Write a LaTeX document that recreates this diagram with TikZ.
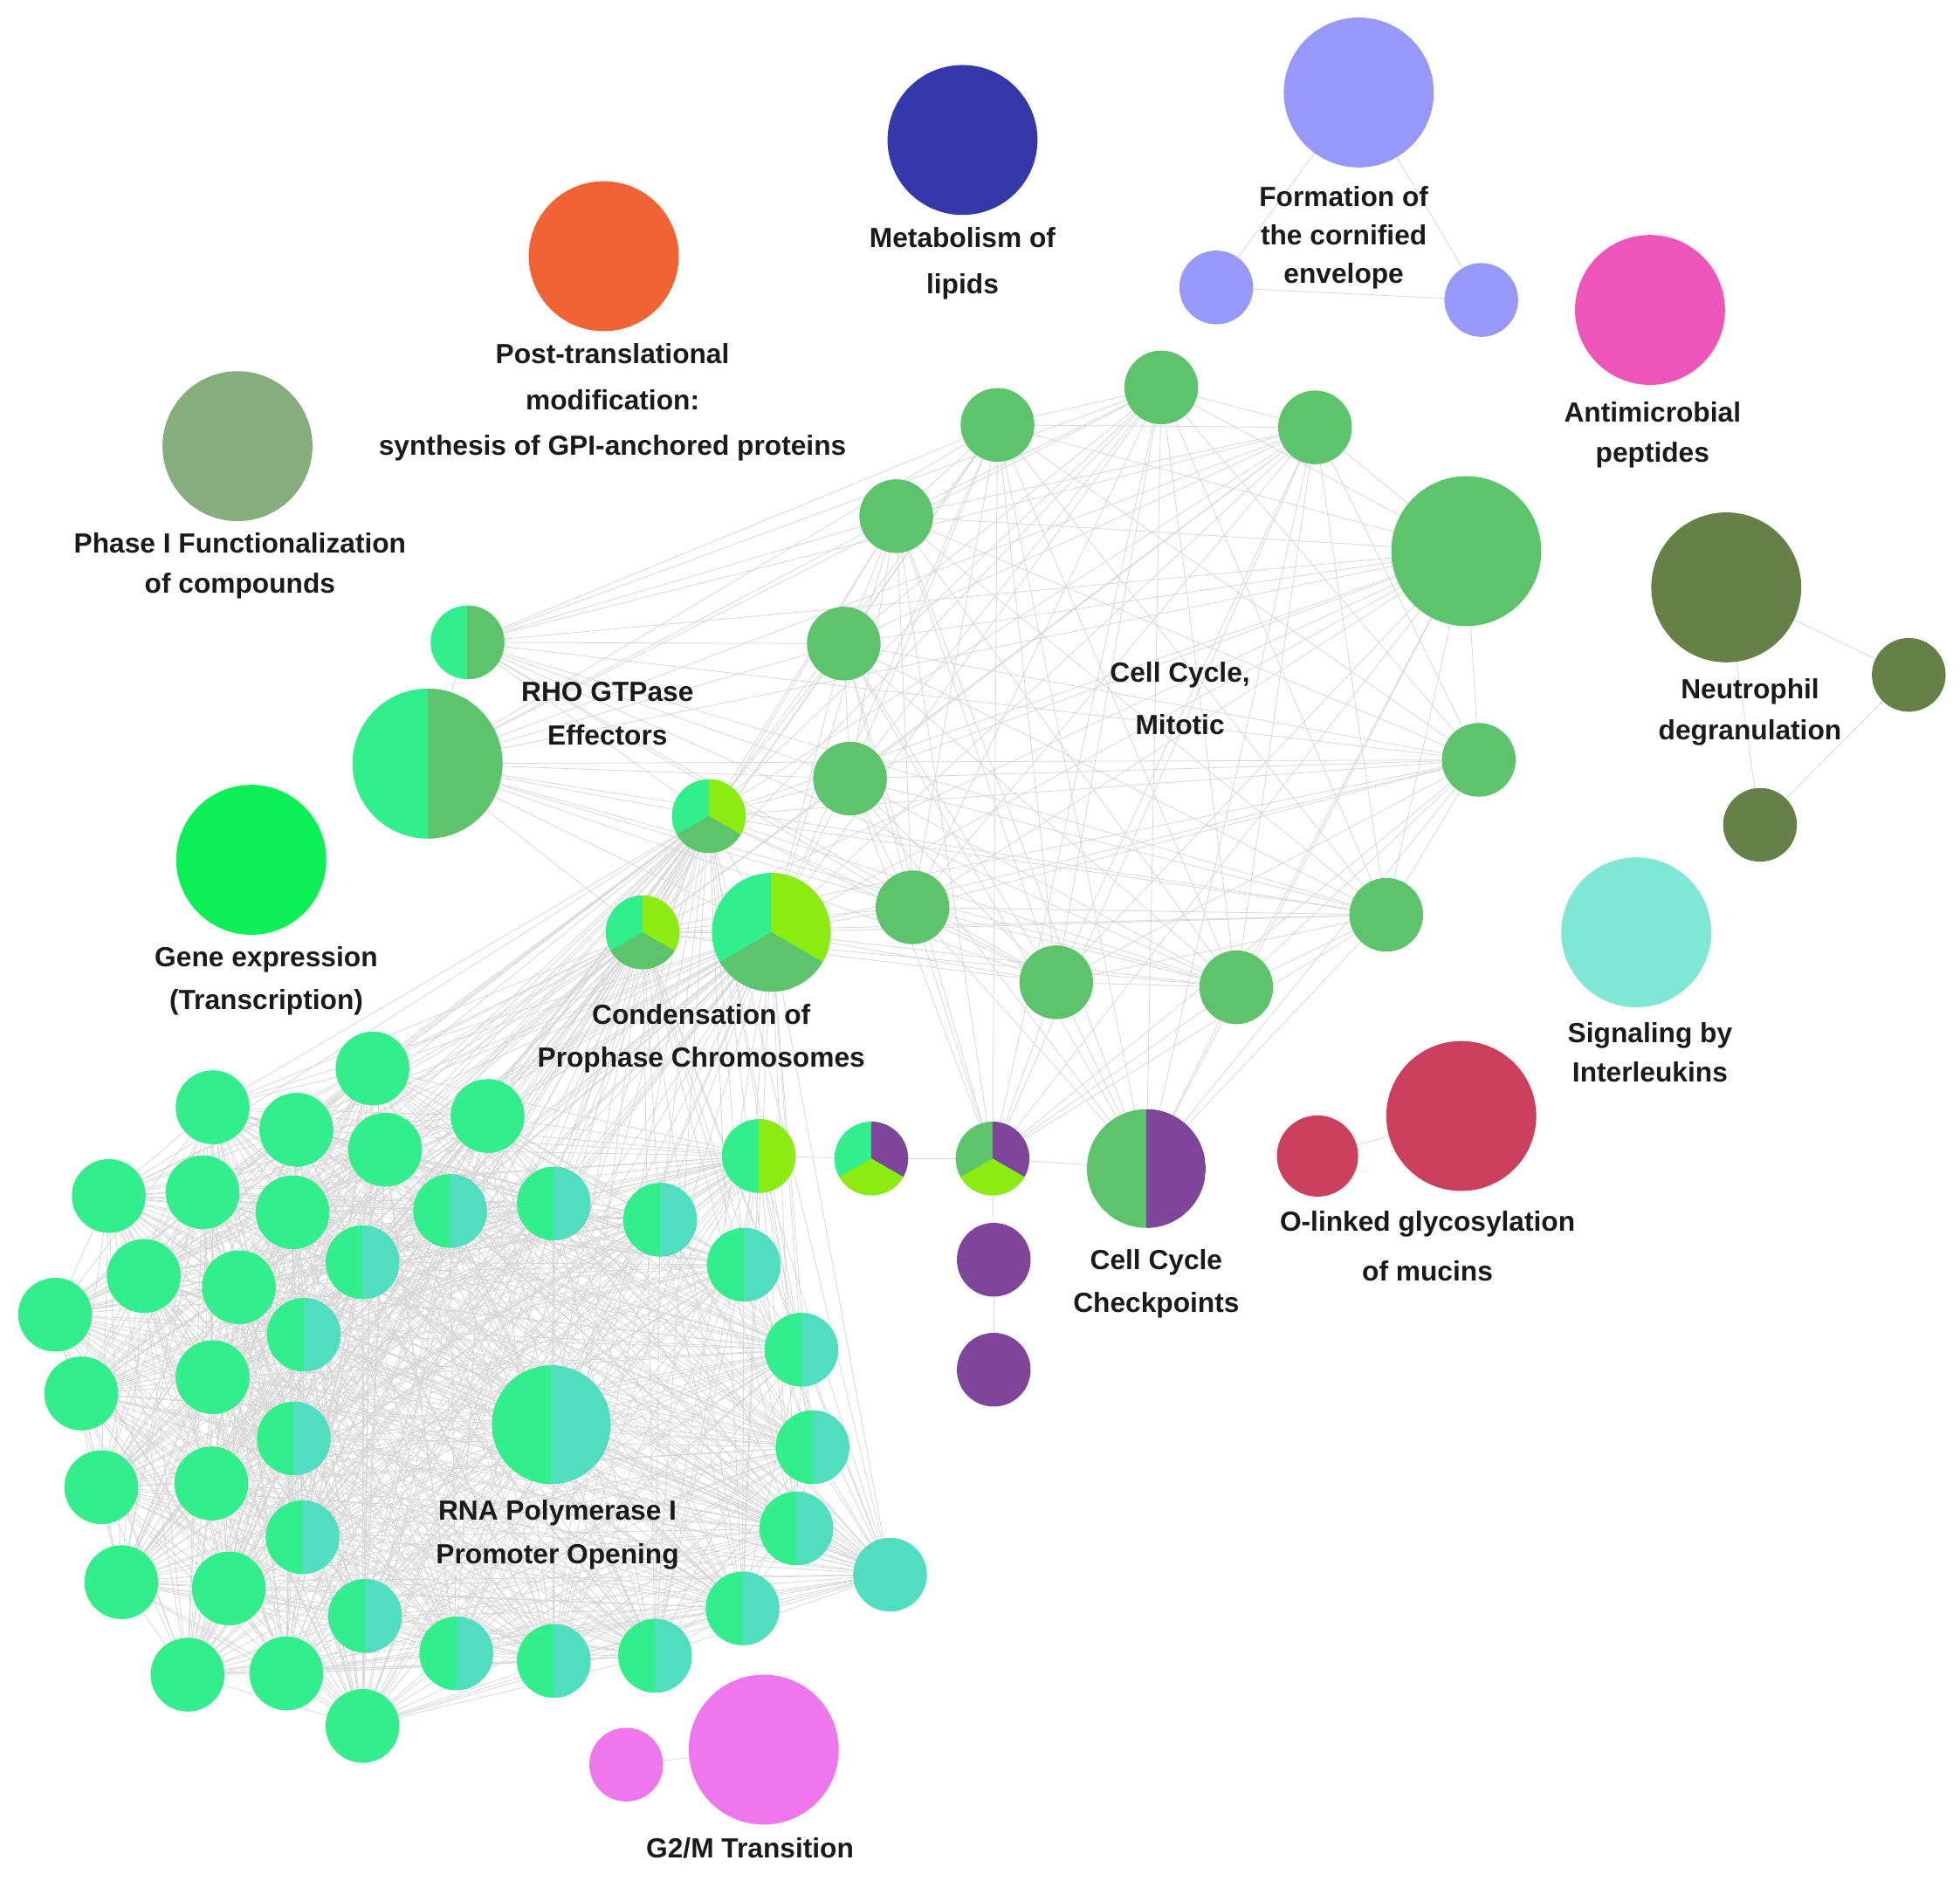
\documentclass[tikz,border=0pt]{standalone}
\usepackage{fontspec}
\usepackage{tikz}
\usetikzlibrary{backgrounds}
\newfontfamily\lblfamily{Liberation Sans}
\newcommand{\lblsize}[1]{\lblfamily\bfseries\fontsize{12.6pt}{#1pt}\selectfont}
\definecolor{cMint}{HTML}{33EE8C}
\definecolor{cAqua}{HTML}{50DDC0}
\definecolor{cMitotic}{HTML}{5EC46C}
\definecolor{cLime}{HTML}{8CEB10}
\definecolor{cPurple}{HTML}{7E459B}
\definecolor{cLipid}{HTML}{3438A8}
\definecolor{cCornified}{HTML}{9898FA}
\definecolor{cPTM}{HTML}{F16334}
\definecolor{cAntimic}{HTML}{EE55BB}
\definecolor{cPhase}{HTML}{88AD7C}
\definecolor{cNeutro}{HTML}{668048}
\definecolor{cGene}{HTML}{0BF055}
\definecolor{cIL}{HTML}{80E6D6}
\definecolor{cOlink}{HTML}{CC405E}
\definecolor{cGtwo}{HTML}{EE77EE}
\definecolor{cEdge}{HTML}{D6D6D6}
\definecolor{cLabel}{HTML}{1A1A1A}

\begin{document}
\begin{tikzpicture}[
 x=0.02cm, y=-0.02cm,
 ball/.style={circle,inner sep=0pt,outer sep=0pt,minimum size=1.18cm},
 bigball/.style={ball,minimum size=2.4cm},
 midball/.style={ball,minimum size=1.9cm},
 duo/.style 2 args={fill=#1,path picture={\fill[#2] (path picture bounding box.north) rectangle (path picture bounding box.south east);}},
 trio/.style n args={3}{fill=#1,path picture={
   \fill[#2] (path picture bounding box.center) -- +(90:2cm) -- +(30:2cm) -- +(-30:2cm) -- cycle;
   \fill[#3] (path picture bounding box.center) -- +(-30:2cm) -- +(-90:2cm) -- +(-150:2cm) -- cycle;}},
 link/.style={draw=cEdge,line width=0.3pt},
 lbl/.style={align=center,inner sep=0pt,text=cLabel}
]
\useasboundingbox (0,0) rectangle (1568,1505);

\node[bigball,fill=cLipid] (lipid) at (770,112) {};
\node[bigball,fill=cCornified] (corn1) at (1087,74) {};
\node[ball,fill=cCornified] (corn2) at (973,230) {};
\node[ball,fill=cCornified] (corn3) at (1185,240) {};
\node[bigball,fill=cPTM] (ptm) at (483,205) {};
\node[bigball,fill=cAntimic] (antimic) at (1320,248) {};
\node[bigball,fill=cPhase] (phase) at (190,357) {};
\node[bigball,fill=cNeutro] (neut1) at (1381,470) {};
\node[ball,fill=cNeutro] (neut2) at (1527,540) {};
\node[ball,fill=cNeutro] (neut3) at (1408,660) {};
\node[bigball,fill=cGene] (gene) at (201,688) {};
\node[bigball,fill=cIL] (il) at (1309,746) {};
\node[bigball,fill=cOlink] (olink1) at (1169,893) {};
\node[ball,fill=cOlink,minimum size=1.3cm] (olink2) at (1054,925) {};
\node[bigball,fill=cGtwo] (gtwo1) at (611,1400) {};
\node[ball,fill=cGtwo] (gtwo2) at (501,1412) {};

\foreach \x/\y [count=\i] in {929/310,798/340,1052/342,717/413,675/515,680/623,
  1183/608,730/726,1109/732,845/786,989/790}
  \node[ball,fill=cMitotic] (m\i) at (\x,\y) {};
\node[bigball,fill=cMitotic] (m12) at (1173,441) {};

\node[ball,duo={cMint}{cMitotic}] (rho1) at (374,514) {};
\node[bigball,duo={cMint}{cMitotic}] (rho2) at (342,611) {};

\node[ball,trio={cMint}{cLime}{cMitotic}] (cond1) at (567,653) {};
\node[ball,trio={cMint}{cLime}{cMitotic}] (cond2) at (514,746) {};
\node[midball,trio={cMint}{cLime}{cMitotic}] (cond3) at (617,746) {};

\node[ball,duo={cMint}{cLime}] (chk1) at (607,925) {};
\node[ball,trio={cMint}{cPurple}{cLime}] (chk2) at (697,927) {};
\node[ball,trio={cMitotic}{cPurple}{cLime}] (chk3) at (794,927) {};
\node[midball,duo={cMitotic}{cPurple}] (chk4) at (917,935) {};
\node[ball,fill=cPurple] (chk5) at (795,1008) {};
\node[ball,fill=cPurple] (chk6) at (795,1096) {};

\foreach \x/\y/\rc [count=\i] in {298/855/cMint,170/886/cMint,390/893/cMint,237/904/cMint,
  308/920/cMint,87/957/cMint,162/954/cMint,234/970/cMint,360/969/cAqua,443/963/cAqua,
  528/976/cAqua,115/1021/cMint,191/1030/cMint,290/1010/cAqua,595/1012/cAqua,44/1052/cMint,
  243/1068/cAqua,641/1080/cAqua,65/1115/cMint,170/1102/cMint,235/1151/cAqua,650/1158/cAqua,
  81/1190/cMint,169/1187/cMint,242/1230/cAqua,637/1223/cAqua,97/1266/cMint,183/1271/cMint,
  292/1293/cAqua,594/1287/cAqua,150/1340/cMint,229/1339/cMint,365/1323/cAqua,443/1329/cAqua,
  524/1325/cAqua,290/1381/cMint}
  \node[ball,duo={cMint}{\rc}] (r\i) at (\x,\y) {};
\node[midball,duo={cMint}{cAqua}] (r37) at (441,1140) {};
\node[ball,fill=cAqua] (r38) at (712,1260) {};

\node[lbl,font=\lblsize{21}] (lblLipid) at (770,211) {Metabolism of\\lipids};
\node[lbl,font=\lblsize{17.4}] (lblCorn) at (1075,190) {Formation of\\the cornified\\envelope};
\node[lbl,font=\lblsize{20.8}] (lblPtm) at (490,322) {Post-translational\\modification:\\synthesis of GPI-anchored proteins};
\node[lbl,font=\lblsize{18.2}] (lblAntimic) at (1322,348) {Antimicrobial\\peptides};
\node[lbl,font=\lblsize{18.2}] (lblPhase) at (192,453) {Phase I Functionalization\\of compounds};
\node[lbl,font=\lblsize{18.8}] (lblNeut) at (1400,570) {Neutrophil\\degranulation};
\node[lbl,font=\lblsize{19.9}] (lblRho) at (486,571) {RHO GTPase\\Effectors};
\node[lbl,font=\lblsize{23.9}] (lblMit) at (944,559) {Cell Cycle,\\Mitotic};
\node[lbl,font=\lblsize{19.4}] (lblGene) at (213,785) {Gene expression\\(Transcription)};
\node[lbl,font=\lblsize{18.2}] (lblIl) at (1320,842) {Signaling by\\Interleukins};
\node[lbl,font=\lblsize{19.4}] (lblCond) at (561,831) {Condensation of\\Prophase Chromosomes};
\node[lbl,font=\lblsize{22.8}] (lblOlink) at (1142,997) {O-linked glycosylation\\of mucins};
\node[lbl,font=\lblsize{19.4}] (lblChk) at (925,1027) {Cell Cycle\\Checkpoints};
\node[lbl,font=\lblsize{19.9}] (lblRna) at (446,1228) {RNA Polymerase I\\Promoter Opening};
\node[lbl,font=\lblsize{19}] (lblGtwo) at (600,1479) {G2/M Transition};

\begin{scope}[on background layer]
\fill[white] (0,0) rectangle (1568,1505);
\foreach \i in {1,...,37}{
  \pgfmathtruncatemacro\nxt{\i+1}
  \foreach \j in {\nxt,...,38} \draw[link] (r\i) -- (r\j);
}
\foreach \i in {1,...,11}{
  \pgfmathtruncatemacro\nxt{\i+1}
  \foreach \j in {\nxt,...,12} \draw[link] (m\i) -- (m\j);
}
\foreach \a in {rho1,rho2,cond1,cond2,cond3,chk3,chk4}
  \foreach \i in {1,...,12} \draw[link] (\a) -- (m\i);
\foreach \a in {cond1,cond2,cond3,chk1}
  \foreach \i in {1,...,38} \draw[link] (\a) -- (r\i);
\foreach \a/\b in {rho1/rho2,rho1/cond1,rho2/cond1,rho2/cond2,rho2/cond3,cond1/cond2,
  cond1/cond3,cond2/cond3,chk1/chk2,chk2/chk3,chk3/chk4,chk3/chk5,chk5/chk6,
  corn1/corn2,corn1/corn3,corn2/corn3,neut1/neut2,neut1/neut3,neut2/neut3,
  olink1/olink2,gtwo1/gtwo2}
  \draw[link] (\a) -- (\b);
\end{scope}
\end{tikzpicture}
\end{document}
